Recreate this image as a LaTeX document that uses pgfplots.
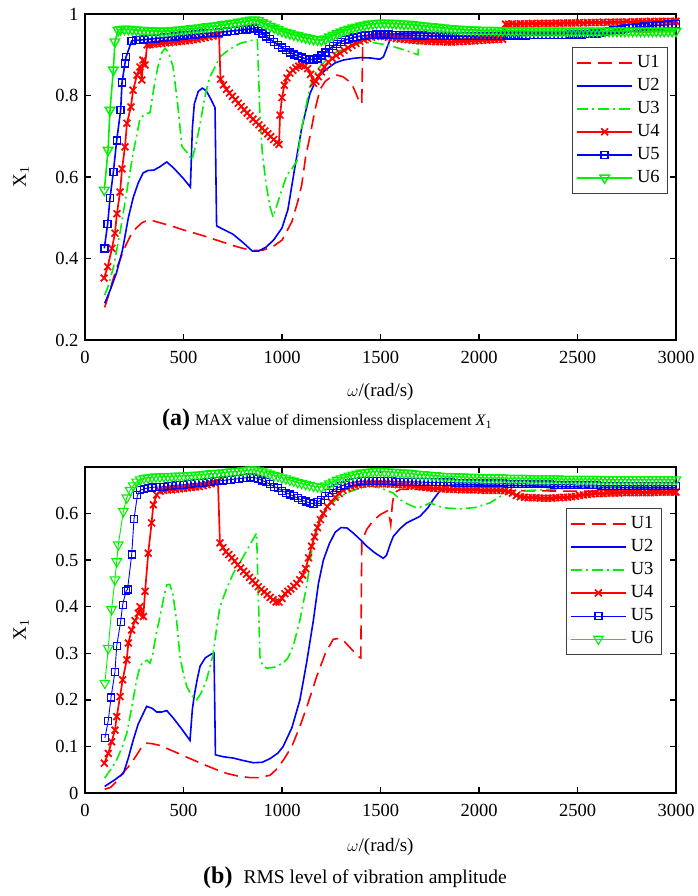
\documentclass[border=0pt]{standalone}
\usepackage{fontspec}
\setmainfont{Liberation Serif}
\usepackage{pgfplots}
\pgfplotsset{compat=1.18}
\definecolor{mred}{rgb}{1,0,0}
\definecolor{mblue}{rgb}{0,0,1}
\definecolor{mgreen}{rgb}{0,0.95,0}
\pgfplotsset{
  myaxis/.style={
    scale only axis, width=591pt, height=326pt,
    xmin=0, xmax=3000, xtick={0,500,1000,1500,2000,2500,3000},
    tick align=inside, major tick length=6pt,
    axis line style={line width=1.6pt},
    every tick/.style={black, line width=1.3pt},
    tick label style={font=\fontsize{18.5}{20}\selectfont},
    xticklabel style={yshift=-8pt},
    yticklabel style={xshift=-3pt},
    /pgf/number format/assume math mode=true,
    /pgf/number format/1000 sep={},
    scaled ticks=false,
    label style={font=\fontsize{19}{21}\selectfont},
    ylabel={X\textsubscript{1}},
    xlabel={$\omega$/(rad/s)},
    legend cell align=left,
    legend image code/.code={\draw[mark repeat=2,mark phase=2,#1] plot coordinates {(0pt,0pt) (27.5pt,0pt) (55pt,0pt)};},
    legend style={draw=black!75, line width=0.8pt, fill=white, anchor=north east,
      font=\fontsize{18.5}{20}\selectfont, inner sep=4pt,
      nodes={inner sep=4pt, text height=12pt, text depth=3pt}},
  },
  sU1/.style={mred, line width=1.6pt, dash pattern=on 14pt off 7pt, no marks},
  sU2/.style={mblue, line width=1.6pt, solid, no marks},
  sU3/.style={mgreen, line width=1.6pt, dash pattern=on 11pt off 4pt on 2pt off 4pt, no marks},
  sU4/.style={mred, line width=1.7pt, solid, mark=x, mark size=4.8pt, mark options={solid}},
}
\begin{document}
\begin{tikzpicture}
\useasboundingbox (0,0) rectangle (697pt,896pt);
% ---------------- (a) ----------------
\begin{axis}[myaxis, at={(85pt,556pt)}, anchor=south west,
  ymin=0.2, ymax=1, ytick={0.2,0.4,0.6,0.8,1},
  ylabel style={at={(axis description cs:-0.108,0.5)}, anchor=center},
  xlabel style={at={(axis description cs:0.5,-0.16)}, anchor=center},
  legend style={at={(0.9865,0.899)}}]
\addplot[sU1] coordinates {(100,0.28)(120,0.31)(140,0.345)(160,0.375)(180,0.40)(200,0.425)(230,0.455)(260,0.475)(290,0.488)(320,0.494)(350,0.492)(400,0.485)(450,0.478)(500,0.47)(550,0.463)(600,0.456)(650,0.448)(700,0.44)(750,0.432)(800,0.425)(850,0.42)(900,0.42)(950,0.428)(1000,0.445)(1050,0.49)(1080,0.54)(1100,0.58)(1120,0.65)(1142,0.70)(1167,0.764)(1193,0.815)(1220,0.835)(1250,0.846)(1280,0.85)(1310,0.846)(1340,0.835)(1362,0.82)(1396,0.781)(1405,0.78)(1410,0.935)(1450,0.945)(1500,0.95)(1600,0.952)(1800,0.952)(2000,0.953)(2500,0.955)(3000,0.957)};
\addlegendentry{U1}
\addplot[sU2] coordinates {(100,0.29)(130,0.325)(160,0.365)(190,0.42)(220,0.50)(245,0.55)(270,0.585)(295,0.61)(320,0.616)(350,0.617)(380,0.625)(415,0.637)(450,0.622)(500,0.596)(535,0.575)(545,0.72)(555,0.78)(575,0.81)(595,0.818)(615,0.812)(640,0.79)(660,0.77)(668,0.48)(700,0.472)(750,0.46)(800,0.44)(850,0.418)(880,0.418)(920,0.428)(960,0.447)(1000,0.475)(1030,0.52)(1063,0.617)(1100,0.72)(1142,0.805)(1180,0.845)(1227,0.865)(1270,0.88)(1311,0.887)(1360,0.891)(1400,0.893)(1450,0.892)(1497,0.889)(1515,0.895)(1535,0.92)(1557,0.948)(1600,0.953)(1800,0.953)(2000,0.954)(2500,0.955)(3000,0.96)};
\addlegendentry{U2}
\addplot[sU3] coordinates {(100,0.31)(120,0.335)(145,0.38)(180,0.47)(213,0.568)(245,0.66)(280,0.745)(310,0.755)(330,0.758)(350,0.82)(370,0.87)(390,0.905)(406,0.916)(425,0.905)(447,0.87)(470,0.78)(492,0.675)(518,0.66)(543,0.642)(568,0.69)(584,0.73)(610,0.80)(634,0.846)(660,0.87)(685,0.895)(730,0.912)(787,0.928)(853,0.936)(875,0.937)(888,0.75)(900,0.66)(920,0.58)(940,0.525)(955,0.502)(990,0.555)(1025,0.605)(1050,0.62)(1076,0.64)(1100,0.72)(1142,0.822)(1176,0.862)(1220,0.885)(1260,0.903)(1330,0.918)(1396,0.928)(1463,0.93)(1520,0.925)(1565,0.92)(1620,0.912)(1690,0.9)(1700,0.955)(2000,0.955)(2500,0.956)(3000,0.957)};
\addlegendentry{U3}
\addplot[sU4] coordinates {(97,0.352)(115,0.38)(137,0.425)(152,0.462)(162,0.51)(178,0.563)(188,0.62)(203,0.674)(213,0.732)(233,0.772)(244,0.813)(264,0.85)(279,0.87)(289,0.838)(294,0.887)(305,0.875)(315,0.924)(330,0.925)(350,0.926)(370,0.927)(390,0.928)(410,0.929)(430,0.93)(450,0.931)(470,0.932)(490,0.933)(510,0.934)(530,0.935)(550,0.937)(570,0.938)(590,0.94)(610,0.942)(630,0.944)(650,0.946)(670,0.948)(680,0.95)(688,0.84)(703,0.826)(718,0.815)(733,0.806)(748,0.798)(763,0.79)(778,0.781)(793,0.773)(808,0.765)(823,0.757)(838,0.75)(853,0.742)(868,0.735)(883,0.728)(898,0.72)(913,0.713)(928,0.706)(943,0.699)(958,0.692)(973,0.685)(985,0.68)(990,0.752)(1000,0.795)(1012,0.825)(1025,0.843)(1040,0.855)(1055,0.862)(1070,0.868)(1085,0.872)(1100,0.874)(1115,0.872)(1130,0.866)(1145,0.852)(1160,0.83)(1172,0.835)(1185,0.846)(1200,0.858)(1215,0.87)(1235,0.882)(1255,0.891)(1275,0.898)(1295,0.904)(1315,0.911)(1335,0.917)(1355,0.923)(1375,0.928)(1395,0.933)(1415,0.937)(1435,0.94)(1455,0.943)(1475,0.945)(1500,0.946)(1520,0.945)(1540,0.943)(1560,0.942)(1580,0.94)(1600,0.939)(1620,0.938)(1640,0.937)(1660,0.936)(1680,0.935)(1700,0.934)(1720,0.934)(1740,0.933)(1760,0.933)(1780,0.932)(1800,0.932)(1820,0.932)(1840,0.931)(1860,0.931)(1880,0.932)(1900,0.932)(1920,0.933)(1940,0.933)(1960,0.934)(1980,0.934)(2000,0.935)(2020,0.936)(2040,0.936)(2060,0.937)(2080,0.937)(2100,0.938)(2120,0.938)(2135,0.975)(2150,0.975)(2170,0.976)(2190,0.975)(2210,0.976)(2230,0.976)(2250,0.976)(2270,0.977)(2290,0.976)(2310,0.977)(2330,0.977)(2350,0.977)(2370,0.977)(2390,0.978)(2410,0.977)(2430,0.978)(2450,0.978)(2470,0.978)(2490,0.978)(2510,0.979)(2530,0.978)(2550,0.979)(2570,0.979)(2590,0.979)(2610,0.979)(2630,0.98)(2650,0.979)(2670,0.98)(2690,0.98)(2710,0.98)(2730,0.98)(2750,0.981)(2770,0.98)(2790,0.981)(2810,0.981)(2830,0.981)(2850,0.981)(2870,0.982)(2890,0.981)(2910,0.982)(2930,0.982)(2950,0.982)(2970,0.982)(2990,0.982)(3000,0.982)};
\addlegendentry{U4}
\addplot[mblue, line width=1.6pt, mark=square, mark size=3.5pt, mark options={solid, line width=1.4pt}] coordinates {(98,0.425)(115,0.485)(127,0.548)(144,0.612)(161,0.69)(181,0.764)(188,0.832)(203,0.879)(208,0.894)(237,0.934)(260,0.936)(280,0.936)(300,0.937)(320,0.938)(340,0.939)(360,0.94)(380,0.941)(400,0.942)(420,0.943)(440,0.944)(460,0.945)(480,0.946)(500,0.947)(520,0.948)(540,0.949)(560,0.95)(580,0.951)(600,0.952)(620,0.953)(640,0.953)(660,0.954)(680,0.955)(700,0.956)(720,0.957)(740,0.958)(760,0.959)(780,0.96)(800,0.961)(820,0.962)(840,0.963)(860,0.964)(880,0.959)(900,0.952)(920,0.945)(940,0.938)(960,0.931)(980,0.924)(1000,0.918)(1020,0.912)(1040,0.906)(1060,0.901)(1080,0.897)(1100,0.893)(1120,0.89)(1140,0.888)(1160,0.888)(1180,0.891)(1200,0.898)(1220,0.906)(1240,0.914)(1260,0.921)(1280,0.927)(1300,0.932)(1320,0.936)(1340,0.939)(1360,0.942)(1380,0.944)(1400,0.946)(1420,0.947)(1440,0.948)(1460,0.949)(1480,0.95)(1500,0.95)(1520,0.95)(1540,0.95)(1560,0.949)(1580,0.949)(1600,0.949)(1620,0.948)(1640,0.948)(1660,0.948)(1680,0.947)(1700,0.947)(1720,0.947)(1740,0.946)(1760,0.946)(1780,0.946)(1800,0.946)(1820,0.946)(1840,0.946)(1860,0.946)(1880,0.946)(1900,0.946)(1920,0.946)(1940,0.946)(1960,0.946)(1980,0.946)(2000,0.946)(2020,0.946)(2040,0.946)(2060,0.946)(2080,0.946)(2100,0.946)(2120,0.946)(2140,0.947)(2160,0.947)(2180,0.947)(2200,0.947)(2220,0.947)(2240,0.947)(2260,0.948)(2280,0.948)(2300,0.948)(2320,0.948)(2340,0.948)(2360,0.948)(2380,0.949)(2400,0.949)(2420,0.949)(2440,0.949)(2460,0.95)(2480,0.95)(2500,0.95)(2520,0.95)(2540,0.951)(2560,0.951)(2580,0.952)(2600,0.952)(2620,0.954)(2640,0.956)(2660,0.958)(2680,0.96)(2700,0.961)(2720,0.962)(2740,0.964)(2760,0.965)(2780,0.966)(2800,0.967)(2820,0.968)(2840,0.969)(2860,0.97)(2880,0.971)(2900,0.972)(2920,0.972)(2940,0.973)(2960,0.974)(2980,0.975)(3000,0.975)};
\addlegendentry{U5}
\addplot[mgreen, line width=1.6pt, mark=triangle, mark size=5.5pt, mark options={solid, rotate=180, line width=1.4pt}] coordinates {(98,0.568)(117,0.666)(127,0.764)(144,0.863)(152,0.932)(168,0.96)(180,0.962)(200,0.963)(220,0.963)(240,0.962)(260,0.961)(280,0.96)(300,0.96)(320,0.959)(340,0.959)(360,0.959)(380,0.958)(400,0.958)(420,0.959)(440,0.959)(460,0.96)(480,0.961)(500,0.962)(520,0.963)(540,0.964)(560,0.965)(580,0.966)(600,0.967)(620,0.969)(640,0.97)(660,0.971)(680,0.972)(700,0.974)(720,0.975)(740,0.977)(760,0.978)(780,0.98)(800,0.981)(820,0.983)(840,0.985)(860,0.986)(880,0.984)(900,0.979)(920,0.975)(940,0.97)(960,0.966)(980,0.962)(1000,0.958)(1020,0.955)(1040,0.952)(1060,0.949)(1080,0.947)(1100,0.944)(1120,0.942)(1140,0.94)(1160,0.938)(1180,0.937)(1200,0.936)(1220,0.939)(1240,0.944)(1260,0.948)(1280,0.952)(1300,0.956)(1320,0.96)(1340,0.963)(1360,0.966)(1380,0.968)(1400,0.971)(1420,0.973)(1440,0.975)(1460,0.976)(1480,0.977)(1500,0.978)(1520,0.978)(1540,0.978)(1560,0.977)(1580,0.977)(1600,0.976)(1620,0.975)(1640,0.975)(1660,0.974)(1680,0.973)(1700,0.972)(1720,0.971)(1740,0.97)(1760,0.969)(1780,0.968)(1800,0.967)(1820,0.966)(1840,0.965)(1860,0.964)(1880,0.963)(1900,0.963)(1920,0.962)(1940,0.962)(1960,0.961)(1980,0.961)(2000,0.96)(2020,0.96)(2040,0.96)(2060,0.96)(2080,0.96)(2100,0.959)(2120,0.959)(2140,0.959)(2160,0.959)(2180,0.959)(2200,0.959)(2220,0.959)(2240,0.958)(2260,0.958)(2280,0.958)(2300,0.958)(2320,0.958)(2340,0.958)(2360,0.958)(2380,0.958)(2400,0.958)(2420,0.958)(2440,0.958)(2460,0.958)(2480,0.958)(2500,0.958)(2520,0.958)(2540,0.958)(2560,0.958)(2580,0.958)(2600,0.958)(2620,0.958)(2640,0.958)(2660,0.958)(2680,0.958)(2700,0.958)(2720,0.958)(2740,0.958)(2760,0.958)(2780,0.958)(2800,0.958)(2820,0.958)(2840,0.958)(2860,0.958)(2880,0.958)(2900,0.958)(2920,0.958)(2940,0.958)(2960,0.958)(2980,0.958)(3000,0.958)};
\addlegendentry{U6}
\end{axis}
\node[anchor=west, inner sep=0pt] at (162pt,476pt) {\fontsize{24}{26}\selectfont\bfseries (a)\hspace{5pt}\fontsize{16}{18}\selectfont\mdseries MAX value of dimensionless displacement \textit{X}\textsubscript{1}};
% ---------------- (b) ----------------
\begin{axis}[myaxis, at={(85pt,103pt)}, anchor=south west,
  ymin=0, ymax=0.7, ytick={0,0.1,0.2,0.3,0.4,0.5,0.6},
  ylabel style={at={(axis description cs:-0.108,0.5)}, anchor=center},
  xlabel style={at={(axis description cs:0.5,-0.166)}, anchor=center},
  legend style={at={(0.976,0.874)}}]
\addplot[sU1] coordinates {(100,0.008)(130,0.012)(160,0.025)(190,0.042)(228,0.06)(260,0.08)(290,0.1)(313,0.107)(340,0.106)(381,0.102)(430,0.093)(480,0.084)(516,0.077)(560,0.069)(610,0.06)(668,0.05)(720,0.042)(780,0.036)(838,0.033)(880,0.033)(939,0.038)(970,0.05)(1006,0.07)(1050,0.1)(1091,0.143)(1130,0.19)(1176,0.25)(1220,0.3)(1260,0.33)(1290,0.332)(1311,0.328)(1350,0.31)(1387,0.293)(1400,0.29)(1405,0.54)(1430,0.566)(1463,0.585)(1500,0.598)(1540,0.607)(1552,0.576)(1560,0.62)(1570,0.645)(1600,0.652)(1800,0.652)(2000,0.65)(2500,0.648)(3000,0.65)};
\addlegendentry{U1}
\addplot[sU2] coordinates {(100,0.014)(110,0.017)(150,0.028)(195,0.042)(220,0.075)(245,0.114)(270,0.148)(296,0.171)(313,0.186)(340,0.182)(364,0.174)(390,0.174)(415,0.177)(450,0.16)(490,0.138)(533,0.113)(545,0.18)(555,0.21)(570,0.245)(584,0.272)(610,0.29)(640,0.298)(655,0.30)(662,0.082)(700,0.078)(753,0.075)(800,0.07)(855,0.065)(900,0.066)(940,0.074)(980,0.086)(1006,0.1)(1050,0.14)(1091,0.2)(1125,0.28)(1159,0.37)(1185,0.45)(1210,0.5)(1240,0.535)(1270,0.56)(1300,0.57)(1330,0.569)(1362,0.558)(1400,0.543)(1430,0.53)(1470,0.516)(1514,0.504)(1530,0.51)(1550,0.535)(1565,0.551)(1600,0.568)(1633,0.58)(1700,0.594)(1740,0.612)(1768,0.63)(1800,0.648)(1830,0.66)(1900,0.662)(2200,0.66)(2600,0.656)(3000,0.655)};
\addlegendentry{U2}
\addplot[sU3] coordinates {(100,0.032)(130,0.05)(161,0.071)(190,0.1)(212,0.128)(240,0.19)(262,0.243)(280,0.272)(296,0.282)(315,0.285)(330,0.279)(345,0.30)(360,0.34)(381,0.379)(400,0.42)(415,0.447)(430,0.448)(445,0.43)(465,0.37)(482,0.293)(500,0.255)(516,0.229)(540,0.21)(567,0.2)(590,0.215)(617,0.243)(640,0.28)(651,0.30)(670,0.36)(685,0.40)(720,0.44)(753,0.472)(800,0.505)(840,0.535)(871,0.558)(878,0.45)(888,0.293)(900,0.275)(922,0.268)(960,0.27)(1006,0.279)(1030,0.29)(1057,0.315)(1090,0.37)(1125,0.444)(1159,0.544)(1190,0.59)(1230,0.615)(1294,0.637)(1350,0.648)(1400,0.655)(1447,0.659)(1500,0.655)(1565,0.644)(1599,0.63)(1640,0.62)(1684,0.612)(1720,0.616)(1751,0.623)(1800,0.615)(1836,0.612)(1900,0.61)(1980,0.613)(2056,0.623)(2100,0.635)(2141,0.644)(2250,0.649)(2344,0.652)(2450,0.654)(2513,0.655)(2600,0.657)(3000,0.66)};
\addlegendentry{U3}
\addplot[sU4] coordinates {(98,0.064)(118,0.085)(135,0.11)(152,0.135)(161,0.164)(178,0.207)(191,0.243)(212,0.286)(220,0.322)(237,0.35)(254,0.37)(271,0.386)(279,0.40)(296,0.379)(305,0.433)(321,0.515)(338,0.58)(347,0.619)(364,0.64)(381,0.648)(400,0.65)(420,0.651)(440,0.651)(460,0.652)(480,0.653)(500,0.654)(520,0.655)(540,0.656)(560,0.657)(580,0.658)(600,0.66)(620,0.662)(640,0.664)(660,0.666)(675,0.669)(685,0.537)(700,0.527)(715,0.518)(730,0.512)(745,0.505)(760,0.498)(775,0.49)(790,0.483)(805,0.476)(820,0.47)(835,0.463)(850,0.456)(865,0.45)(880,0.443)(895,0.437)(910,0.432)(925,0.426)(940,0.42)(955,0.415)(970,0.41)(985,0.41)(1000,0.418)(1015,0.428)(1030,0.433)(1045,0.438)(1060,0.444)(1075,0.45)(1090,0.458)(1105,0.468)(1120,0.482)(1135,0.505)(1150,0.53)(1165,0.55)(1180,0.57)(1195,0.587)(1210,0.6)(1230,0.615)(1250,0.625)(1270,0.635)(1290,0.643)(1310,0.65)(1330,0.655)(1350,0.658)(1370,0.66)(1390,0.662)(1410,0.663)(1430,0.664)(1450,0.665)(1470,0.665)(1490,0.664)(1510,0.664)(1530,0.664)(1550,0.663)(1570,0.663)(1590,0.662)(1610,0.662)(1630,0.661)(1650,0.66)(1670,0.659)(1690,0.658)(1710,0.657)(1730,0.656)(1750,0.655)(1770,0.654)(1790,0.654)(1810,0.653)(1830,0.653)(1850,0.652)(1870,0.652)(1890,0.652)(1910,0.651)(1930,0.651)(1950,0.651)(1970,0.651)(1990,0.651)(2010,0.65)(2030,0.65)(2050,0.65)(2070,0.65)(2090,0.65)(2110,0.65)(2130,0.649)(2150,0.647)(2170,0.644)(2190,0.639)(2210,0.636)(2230,0.635)(2250,0.634)(2270,0.634)(2290,0.634)(2310,0.633)(2330,0.633)(2350,0.633)(2370,0.633)(2390,0.634)(2410,0.634)(2430,0.635)(2450,0.635)(2470,0.636)(2490,0.637)(2510,0.639)(2530,0.64)(2550,0.641)(2570,0.642)(2590,0.643)(2610,0.643)(2630,0.643)(2650,0.644)(2670,0.644)(2690,0.644)(2710,0.644)(2730,0.645)(2750,0.645)(2770,0.645)(2790,0.645)(2810,0.645)(2830,0.645)(2850,0.645)(2870,0.645)(2890,0.645)(2910,0.646)(2930,0.646)(2950,0.646)(2970,0.646)(2990,0.646)(3000,0.646)};
\addlegendentry{U4}
\addplot[mblue, line width=0.9pt, mark=square, mark size=3.5pt, mark options={solid, line width=1.1pt}] coordinates {(101,0.118)(118,0.155)(132,0.205)(152,0.26)(161,0.316)(181,0.368)(191,0.404)(208,0.433)(216,0.437)(237,0.512)(249,0.589)(266,0.639)(280,0.65)(300,0.653)(320,0.655)(340,0.656)(360,0.657)(380,0.657)(400,0.658)(420,0.659)(440,0.66)(460,0.661)(480,0.661)(500,0.662)(520,0.663)(540,0.664)(560,0.665)(580,0.665)(600,0.666)(620,0.667)(640,0.668)(660,0.669)(680,0.67)(700,0.671)(720,0.672)(740,0.673)(760,0.674)(780,0.675)(800,0.676)(820,0.677)(840,0.678)(860,0.677)(880,0.675)(900,0.671)(920,0.667)(940,0.663)(960,0.658)(980,0.654)(1000,0.649)(1020,0.645)(1040,0.641)(1060,0.637)(1080,0.633)(1100,0.629)(1120,0.626)(1140,0.623)(1160,0.621)(1180,0.624)(1200,0.63)(1220,0.637)(1240,0.644)(1260,0.65)(1280,0.655)(1300,0.659)(1320,0.662)(1340,0.665)(1360,0.667)(1380,0.668)(1400,0.669)(1420,0.669)(1440,0.669)(1460,0.669)(1480,0.669)(1500,0.669)(1520,0.669)(1540,0.669)(1560,0.669)(1580,0.668)(1600,0.668)(1620,0.668)(1640,0.668)(1660,0.668)(1680,0.668)(1700,0.668)(1720,0.667)(1740,0.667)(1760,0.667)(1780,0.667)(1800,0.667)(1820,0.667)(1840,0.667)(1860,0.667)(1880,0.666)(1900,0.666)(1920,0.666)(1940,0.666)(1960,0.666)(1980,0.666)(2000,0.666)(2020,0.665)(2040,0.665)(2060,0.665)(2080,0.665)(2100,0.665)(2120,0.665)(2140,0.664)(2160,0.664)(2180,0.664)(2200,0.664)(2220,0.664)(2240,0.664)(2260,0.663)(2280,0.663)(2300,0.663)(2320,0.663)(2340,0.663)(2360,0.663)(2380,0.662)(2400,0.662)(2420,0.662)(2440,0.662)(2460,0.662)(2480,0.662)(2500,0.661)(2520,0.661)(2540,0.661)(2560,0.661)(2580,0.661)(2600,0.661)(2620,0.66)(2640,0.66)(2660,0.66)(2680,0.66)(2700,0.66)(2720,0.66)(2740,0.66)(2760,0.66)(2780,0.66)(2800,0.66)(2820,0.66)(2840,0.66)(2860,0.66)(2880,0.66)(2900,0.66)(2920,0.66)(2940,0.66)(2960,0.66)(2980,0.66)(3000,0.66)};
\addlegendentry{U5}
\addplot[mgreen, line width=0.9pt, mark=triangle, mark size=5.5pt, mark options={solid, rotate=180, line width=1.1pt}] coordinates {(101,0.236)(118,0.311)(135,0.394)(152,0.458)(161,0.497)(169,0.533)(195,0.605)(212,0.634)(229,0.65)(245,0.66)(262,0.668)(280,0.673)(300,0.676)(320,0.677)(340,0.678)(360,0.679)(380,0.679)(400,0.68)(420,0.68)(440,0.68)(460,0.681)(480,0.681)(500,0.681)(520,0.682)(540,0.682)(560,0.683)(580,0.683)(600,0.684)(620,0.685)(640,0.686)(660,0.686)(680,0.687)(700,0.688)(720,0.689)(740,0.69)(760,0.69)(780,0.691)(800,0.692)(820,0.693)(840,0.694)(860,0.694)(880,0.692)(900,0.69)(920,0.688)(940,0.685)(960,0.682)(980,0.68)(1000,0.677)(1020,0.675)(1040,0.672)(1060,0.67)(1080,0.667)(1100,0.665)(1120,0.663)(1140,0.661)(1160,0.659)(1180,0.658)(1200,0.657)(1220,0.66)(1240,0.664)(1260,0.668)(1280,0.672)(1300,0.675)(1320,0.678)(1340,0.681)(1360,0.683)(1380,0.685)(1400,0.687)(1420,0.688)(1440,0.689)(1460,0.69)(1480,0.691)(1500,0.691)(1520,0.69)(1540,0.69)(1560,0.689)(1580,0.689)(1600,0.688)(1620,0.687)(1640,0.687)(1660,0.686)(1680,0.685)(1700,0.684)(1720,0.684)(1740,0.683)(1760,0.682)(1780,0.682)(1800,0.681)(1820,0.68)(1840,0.68)(1860,0.68)(1880,0.679)(1900,0.679)(1920,0.679)(1940,0.678)(1960,0.678)(1980,0.678)(2000,0.678)(2020,0.677)(2040,0.677)(2060,0.677)(2080,0.677)(2100,0.677)(2120,0.677)(2140,0.676)(2160,0.676)(2180,0.676)(2200,0.676)(2220,0.676)(2240,0.676)(2260,0.675)(2280,0.675)(2300,0.675)(2320,0.675)(2340,0.675)(2360,0.675)(2380,0.675)(2400,0.675)(2420,0.674)(2440,0.674)(2460,0.674)(2480,0.674)(2500,0.674)(2520,0.674)(2540,0.674)(2560,0.674)(2580,0.674)(2600,0.674)(2620,0.673)(2640,0.673)(2660,0.673)(2680,0.673)(2700,0.673)(2720,0.673)(2740,0.673)(2760,0.673)(2780,0.673)(2800,0.673)(2820,0.673)(2840,0.673)(2860,0.673)(2880,0.673)(2900,0.673)(2920,0.673)(2940,0.673)(2960,0.673)(2980,0.673)(3000,0.673)};
\addlegendentry{U6}
\end{axis}
\node[anchor=west, inner sep=0pt] at (203pt,18pt) {\fontsize{24}{26}\selectfont\bfseries (b)\hspace{11pt}\fontsize{19.5}{21}\selectfont\mdseries RMS level of vibration amplitude};
\end{tikzpicture}
\end{document}
